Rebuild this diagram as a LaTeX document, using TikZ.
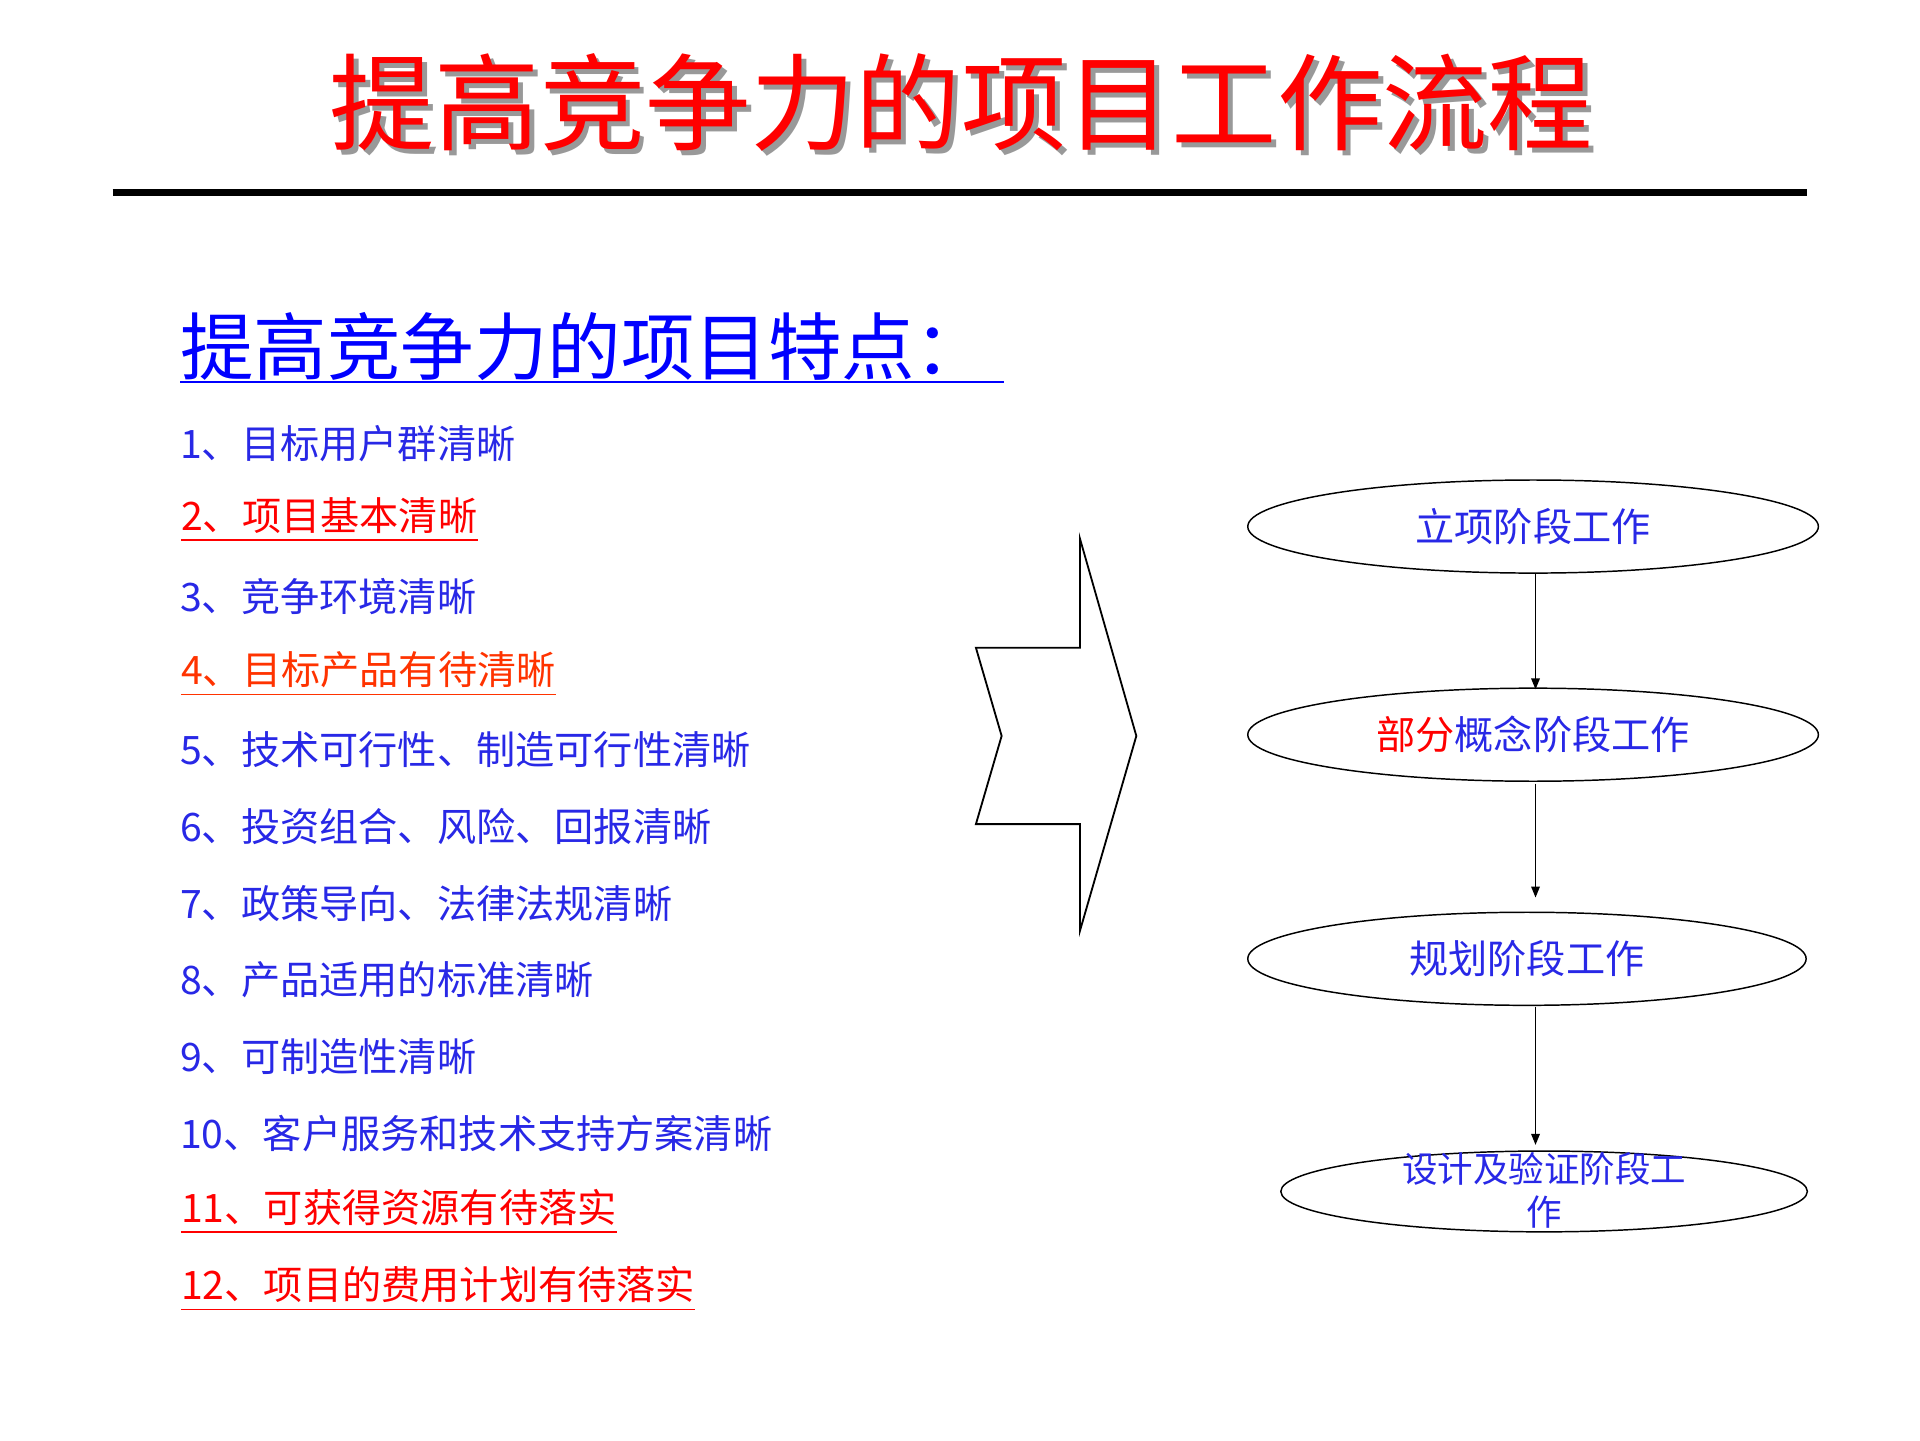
\documentclass[tikz,border=0pt]{standalone}
\usepackage{fontspec}
\setmainfont{Noto Sans CJK SC}
\usetikzlibrary{shapes.geometric,arrows.meta}
\definecolor{tblue}{RGB}{40,40,230}
\definecolor{tred}{RGB}{255,0,0}
\definecolor{torange}{RGB}{255,51,0}
\tikzset{
 item/.style={anchor=west,inner sep=0pt,font=\fontsize{32}{32}\selectfont},
 stage/.style={draw,ellipse,line width=1.2pt,inner sep=0pt},
 flow/.style={-{Triangle[length=9pt,width=7pt]},line width=1.2pt}
}
\newcommand{\ul}[2]{\tikz[baseline=(t.base)]{\node[inner sep=0pt,text=#1](t){#2};\draw[#1,line width=1.2pt]([yshift=-5pt]t.south west)--([yshift=-5pt]t.south east);}}
\begin{document}
\begin{tikzpicture}[x=1pt,y=-1pt]
\useasboundingbox (0,0) rectangle (1568,1176);
\node[text=black!40,font=\fontsize{86}{86}\selectfont] at (789,88) {提高竞争力的项目工作流程};
\node[text=tred,font=\fontsize{86}{86}\selectfont] (title) at (785,84) {提高竞争力的项目工作流程};
\draw[line width=6pt] (92,157) -- (1476,157);
\node[anchor=west,inner sep=0pt,text=blue,font=\fontsize{60}{60}\selectfont] (head) at (147,283) {提高竞争力的项目特点：};
\draw[blue,line width=2pt] (147,312) -- (820,312);
\node[item,text=tblue] (i1) at (147,362) {1、目标用户群清晰};
\node[item] (i2) at (147,424) {\ul{tred}{2、项目基本清晰}};
\node[item,text=tblue] (i3) at (147,487) {3、竞争环境清晰};
\node[item] (i4) at (147,550) {\ul{torange}{4、目标产品有待清晰}};
\node[item,text=tblue] (i5) at (147,612) {5、技术可行性、制造可行性清晰};
\node[item,text=tblue] (i6) at (147,675) {6、投资组合、风险、回报清晰};
\node[item,text=tblue] (i7) at (147,738) {7、政策导向、法律法规清晰};
\node[item,text=tblue] (i8) at (147,800) {8、产品适用的标准清晰};
\node[item,text=tblue] (i9) at (147,863) {9、可制造性清晰};
\node[item,text=tblue] (i10) at (147,926) {10、客户服务和技术支持方案清晰};
\node[item] (i11) at (147,989) {\ul{tred}{11、可获得资源有待落实}};
\node[item] (i12) at (147,1052) {\ul{tred}{12、项目的费用计划有待落实}};
\draw[line width=1.5pt,line join=miter] (797,529) -- (882,529) -- (882,440) -- (928,601) -- (882,760) -- (882,673) -- (797,673) -- (818,601) -- cycle;
\node[stage,minimum width=466pt,minimum height=76pt] (s1) at (1252,430) {};
\node[text=tblue,font=\fontsize{32}{32}\selectfont] at (s1) {立项阶段工作};
\node[stage,minimum width=466pt,minimum height=76pt] (s2) at (1252,600) {};
\node[font=\fontsize{32}{32}\selectfont] at (s2) {\textcolor{tred}{部分}\textcolor{tblue}{概念阶段工作}};
\node[stage,minimum width=456pt,minimum height=76pt] (s3) at (1247,783) {};
\node[text=tblue,font=\fontsize{32}{32}\selectfont] at (s3) {规划阶段工作};
\node[stage,minimum width=430pt,minimum height=66pt] (s4) at (1261,973) {};
\node[text=tblue,font=\fontsize{29}{35}\selectfont,align=center] at (1261,972) {设计及验证阶段工\\作};
\draw[flow] (1254,468) -- (1254,563);
\draw[flow] (1254,640) -- (1254,733);
\draw[flow] (1254,822) -- (1254,935);
\end{tikzpicture}
\end{document}
